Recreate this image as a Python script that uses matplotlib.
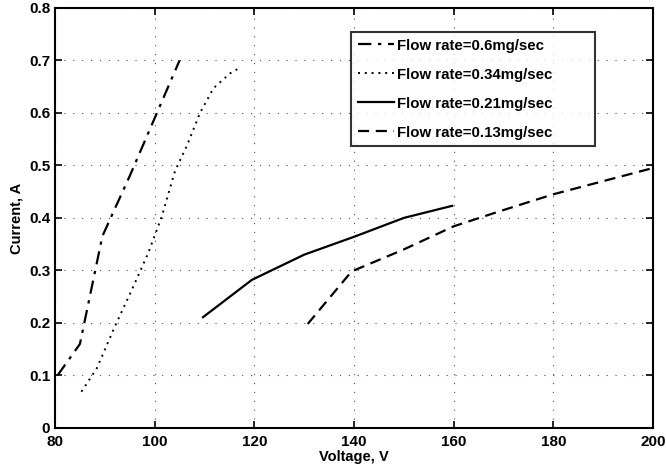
import matplotlib.pyplot as plt

# Current vs voltage for several flow rates
v_060 = [80.5, 85, 89.5, 95, 100, 105]
i_060 = [0.10, 0.16, 0.365, 0.48, 0.59, 0.70]

v_034 = [85.3, 88.4, 92, 95.7, 98.7, 101.4, 104.1, 106.4, 109.1, 111.8, 115.1, 117.1]
i_034 = [0.069, 0.114, 0.193, 0.269, 0.333, 0.402, 0.49, 0.536, 0.60, 0.647, 0.675, 0.686]

v_021 = [109.7, 119.5, 130, 140, 150, 159.7]
i_021 = [0.211, 0.282, 0.33, 0.364, 0.40, 0.423]

v_013 = [130.7, 139.5, 150, 160, 170, 180, 190, 200]
i_013 = [0.198, 0.298, 0.34, 0.384, 0.415, 0.445, 0.47, 0.495]

labels = ['Flow rate=0.6mg/sec', 'Flow rate=0.34mg/sec',
          'Flow rate=0.21mg/sec', 'Flow rate=0.13mg/sec']

plt.rcParams['font.family'] = ['Liberation Sans', 'DejaVu Sans']

fig = plt.figure(figsize=(6.66, 4.70), dpi=100)
ax = fig.add_axes([0.0826, 0.0894, 0.898, 0.894])

ax.plot(v_060, i_060, color='black', linewidth=1.6, linestyle=(0, (6, 3, 1.5, 3)), label=labels[0])
ax.plot(v_034, i_034, color='black', linewidth=1.4, linestyle=(0, (1, 2.5)), label=labels[1])
ax.plot(v_021, i_021, color='black', linewidth=1.6, linestyle='-', label=labels[2])
ax.plot(v_013, i_013, color='black', linewidth=1.6, linestyle=(0, (5, 3)), label=labels[3])

ax.set_xlim(80, 200)
ax.set_ylim(0, 0.8)
ax.set_xticks([80, 100, 120, 140, 160, 180, 200])
ax.set_yticks([0, 0.1, 0.2, 0.3, 0.4, 0.5, 0.6, 0.7, 0.8])
ax.set_yticklabels(['0', '0.1', '0.2', '0.3', '0.4', '0.5', '0.6', '0.7', '0.8'])

ax.grid(True, color='black', linestyle=(0, (1, 7)), linewidth=0.8, alpha=0.7)
ax.tick_params(direction='in', top=True, right=True, length=5, width=1.2,
               labelsize=11)
ax.tick_params(axis='x', pad=5)
for lbl in ax.get_xticklabels() + ax.get_yticklabels():
    lbl.set_fontweight('bold')
for spine in ax.spines.values():
    spine.set_linewidth(1.5)

ax.set_xlabel('Voltage, V', fontsize=10.5, fontweight='bold', labelpad=1)
ax.set_ylabel('Current, A', fontsize=10.5, fontweight='bold', labelpad=4)

leg = ax.legend(loc='upper left', bbox_to_anchor=(0.495, 0.669, 0.408, 0.274),
                mode='expand', fontsize=10.8,
                frameon=True, fancybox=False, edgecolor='black',
                handlelength=2.4, handletextpad=0.2, borderpad=0.45,
                borderaxespad=0, labelspacing=1.0)
leg.get_frame().set_linewidth(1.5)
for t in leg.get_texts():
    t.set_fontweight('bold')

fig.savefig('out.png', dpi=100)
